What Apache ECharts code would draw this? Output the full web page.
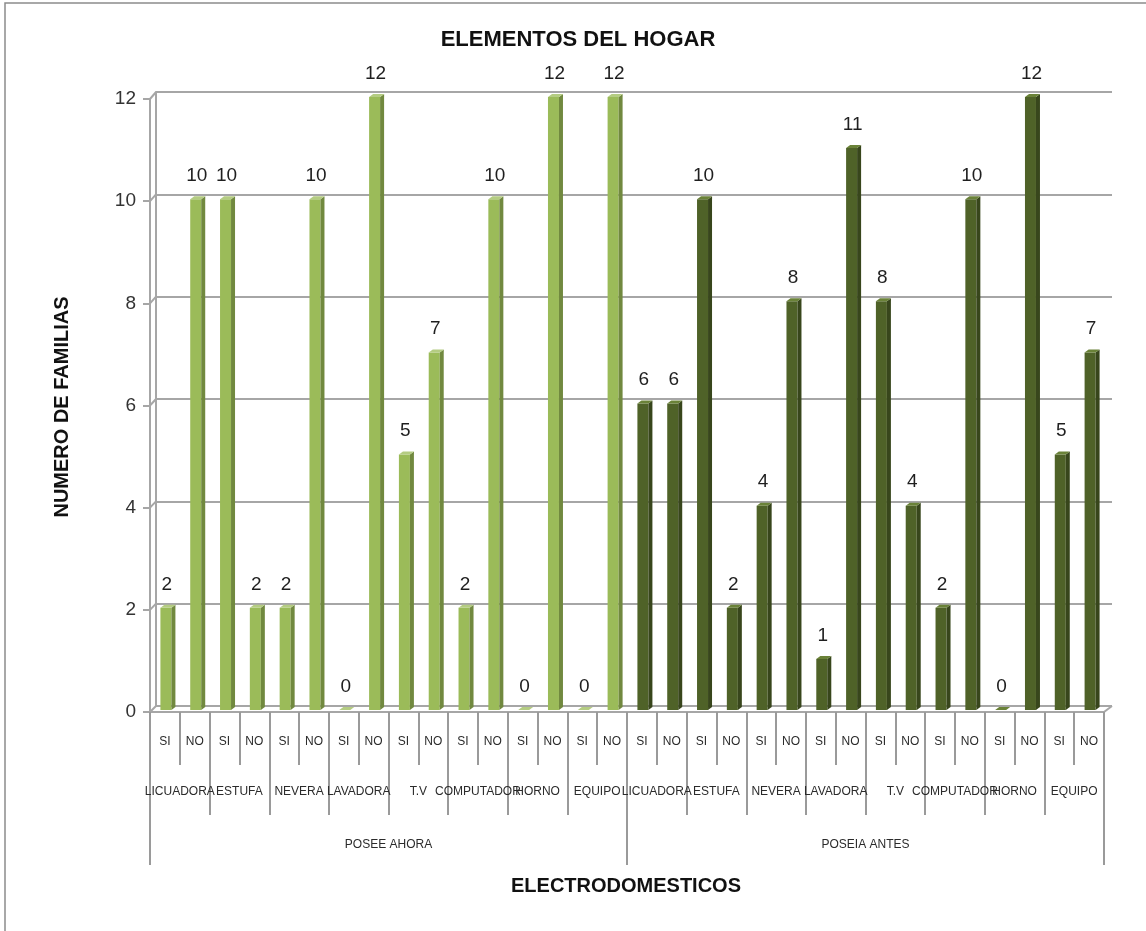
<!DOCTYPE html>
<html><head><meta charset="utf-8">
<script src="https://cdn.jsdelivr.net/npm/echarts@6/dist/echarts.min.js"></script>
<style>html,body{margin:0;padding:0;background:#fff}#c{width:1146px;height:931px}</style>
</head><body><div id="c"></div>
<script>
// ---- data ----
const chartTitle = 'ELEMENTOS DEL HOGAR';
const yAxisTitle = 'NUMERO DE FAMILIAS';
const xAxisTitle = 'ELECTRODOMESTICOS';
const groups = ['POSEE AHORA', 'POSEIA ANTES'];
const items = ['LICUADORA', 'ESTUFA', 'NEVERA', 'LAVADORA', 'T.V', 'COMPUTADOR', 'HORNO', 'EQUIPO'];
const answers = ['SI', 'NO'];
// values in order item SI, item NO for each item
const poseeAhora = [2, 10, 10, 2, 2, 10, 0, 12, 5, 7, 2, 10, 0, 12, 0, 12];
const poseiaAntes = [6, 6, 10, 2, 4, 8, 1, 11, 8, 4, 2, 10, 0, 12, 5, 7];
const yMin = 0, yMax = 12, yStep = 2;

// ---- style ----
const FONT = 'Liberation Sans';
const palette = [
  { front: '#9BBB59', side: '#71893F', top: '#B4CC82' },
  { front: '#4F6228', side: '#38461C', top: '#6A8238' }
];
const G = { left: 150, right: 42, top: 99, bottom: 219 };     // front plane
const B = { left: 156, right: 34, top: 92, bottom: 225 };     // back wall
const gridColor = '#a6a6a6';

// ---- categories ----
const answerCats = [], itemCats = [];
groups.forEach(g => items.forEach(it => {
  itemCats.push(g + '|' + it);
  answers.forEach(a => answerCats.push(g + '|' + it + '|' + a));
}));
const n = items.length * answers.length;

function makeSeries(name, values, gi) {
  const col = palette[gi];
  return {
    name: name, type: 'custom', xAxisIndex: 0, yAxisIndex: 0, clip: false,
    data: values.map((v, i) => [gi * n + i, v]),
    renderItem: function (params, api) {
      const idx = api.value(0), v = api.value(1);
      const top = api.coord([idx, v]);
      const base = api.coord([idx, 0]);
      const fw = 11, d = 4, dy = 3, lift = 2;
      const cx = top[0];
      const x0 = cx - 4.5, x1 = x0 + fw;
      const yT = top[1] - lift, yB = base[1] - lift;
      return {
        type: 'group',
        children: [
          { type: 'rect', shape: { x: x0, y: yT, width: fw, height: Math.max(0, yB - yT) }, style: { fill: col.front } },
          { type: 'polygon', shape: { points: [[x1, yT], [x1 + d, yT - dy], [x1 + d, yB - dy], [x1, yB]] }, style: { fill: col.side } },
          { type: 'polygon', shape: { points: [[x0, yT], [x0 + d, yT - dy], [x1 + d, yT - dy], [x1, yT]] }, style: { fill: col.top } },
          { type: 'text', style: { text: String(v), x: cx + 2, y: yT - 14, align: 'center', verticalAlign: 'bottom',
            fill: '#1f1f1f', fontSize: 19, fontFamily: FONT } }
        ]
      };
    }
  };
}

const chart = echarts.init(document.getElementById('c'), null, { renderer: 'canvas' });
const tickStyle = { color: '#9a9a9a', width: 2 };
const catLabel = { interval: 0, fontSize: 12, color: '#2b2b2b', fontFamily: FONT, hideOverlap: false };

chart.setOption({
  animation: false,
  backgroundColor: '#fff',
  grid: [
    Object.assign({ containLabel: false, outerBoundsMode: 'none' }, G),
    Object.assign({ containLabel: false, outerBoundsMode: 'none' }, B)
  ],
  xAxis: [
    { gridIndex: 0, type: 'category', position: 'bottom', offset: 0, data: answerCats, boundaryGap: true,
      axisLine: { show: true, lineStyle: { color: gridColor, width: 2 } },
      axisTick: { show: true, interval: 0, length: 53, lineStyle: tickStyle },
      axisLabel: Object.assign({ margin: 24, formatter: v => v.split('|')[2] }, catLabel),
      splitLine: { show: false } },
    { gridIndex: 0, type: 'category', position: 'bottom', offset: 0, data: itemCats, boundaryGap: true,
      axisLine: { show: false },
      axisTick: { show: true, interval: 0, length: 103, lineStyle: tickStyle },
      axisLabel: Object.assign({ margin: 74, formatter: v => v.split('|')[1] }, catLabel),
      splitLine: { show: false } },
    { gridIndex: 0, type: 'category', position: 'bottom', offset: 0, data: groups, boundaryGap: true,
      axisLine: { show: false },
      axisTick: { show: true, interval: 0, length: 153, lineStyle: tickStyle },
      axisLabel: Object.assign({ margin: 127 }, catLabel),
      splitLine: { show: false } },
    { gridIndex: 1, type: 'value', show: false }
  ],
  yAxis: [
    { gridIndex: 0, type: 'value', min: yMin, max: yMax, interval: yStep,
      axisLine: { show: true, lineStyle: { color: gridColor, width: 2 } },
      axisTick: { show: true, length: 7, lineStyle: { color: gridColor, width: 2 } },
      axisLabel: { fontSize: 19, color: '#333', margin: 14, fontFamily: FONT },
      splitLine: { show: false } },
    { gridIndex: 1, type: 'value', min: yMin, max: yMax, interval: yStep,
      axisLine: { show: true, lineStyle: { color: gridColor, width: 2 } },
      axisTick: { show: false }, axisLabel: { show: false },
      splitLine: { show: true, lineStyle: { color: gridColor, width: 2 } } }
  ],
  series: [
    makeSeries(groups[0], poseeAhora, 0),
    makeSeries(groups[1], poseiaAntes, 1)
  ]
});

// decorations: depth connectors, titles, border
const W = 1146, H = 931;
const gfx = [];
for (let v = yMin; v <= yMax; v += yStep) {
  const yf = chart.convertToPixel({ yAxisIndex: 0 }, v);
  const yb = chart.convertToPixel({ yAxisIndex: 1 }, v);
  gfx.push({ type: 'line', shape: { x1: G.left, y1: yf, x2: B.left, y2: yb }, style: { stroke: gridColor, lineWidth: 2 } });
}
const y0f = chart.convertToPixel({ yAxisIndex: 0 }, yMin);
const y0b = chart.convertToPixel({ yAxisIndex: 1 }, yMin);
gfx.push({ type: 'line', shape: { x1: W - G.right, y1: y0f, x2: W - B.right, y2: y0b }, style: { stroke: gridColor, lineWidth: 2 } });
gfx.push({ type: 'rect', shape: { x: 5, y: 3, width: 1300, height: 1000 }, style: { fill: null, stroke: '#8c8c8c', lineWidth: 1.5 }, silent: true });
gfx.push({ type: 'text', x: 578, y: 40, style: { text: chartTitle, align: 'center', verticalAlign: 'middle', fontSize: 22, fontWeight: 'bold', fontFamily: FONT, fill: '#111' } });
gfx.push({ type: 'text', x: 62, y: 407, rotation: Math.PI / 2, style: { text: yAxisTitle, align: 'center', verticalAlign: 'middle', fontSize: 20, fontWeight: 'bold', fontFamily: FONT, fill: '#111' } });
gfx.push({ type: 'text', x: 626, y: 886, style: { text: xAxisTitle, align: 'center', verticalAlign: 'middle', fontSize: 20, fontWeight: 'bold', fontFamily: FONT, fill: '#111' } });
chart.setOption({ graphic: gfx });
</script>
</body></html>
